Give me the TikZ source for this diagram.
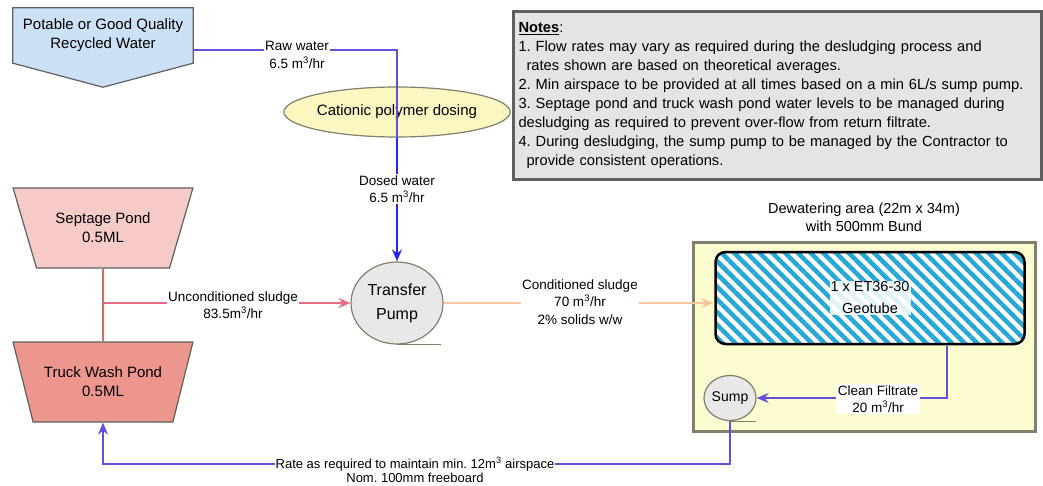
\documentclass[tikz,border=0pt]{standalone}
\usepackage{fontspec}
\setmainfont{Liberation Sans}
\usetikzlibrary{arrows.meta,positioning,shapes.geometric,patterns.meta,backgrounds,calc}
\frenchspacing

% colours
\definecolor{srcblue}{RGB}{205,225,246}
\definecolor{edgegray}{RGB}{95,95,95}
\definecolor{rawblue}{RGB}{100,80,215}
\definecolor{dosblue}{RGB}{40,40,235}
\definecolor{dosyellow}{RGB}{252,246,192}
\definecolor{septpink}{RGB}{246,202,198}
\definecolor{truckred}{RGB}{236,150,142}
\definecolor{pondline}{RGB}{196,110,110}
\definecolor{sludgered}{RGB}{228,110,128}
\definecolor{condorange}{RGB}{248,198,158}
\definecolor{areayellow}{RGB}{253,251,208}
\definecolor{areaedge}{RGB}{128,128,108}
\definecolor{notegray}{RGB}{228,228,228}
\definecolor{tubecyan}{RGB}{38,168,215}
\definecolor{pumpgray}{RGB}{232,232,232}

\tikzset{
  bigtxt/.style={font=\fontsize{15}{19}\selectfont, align=center},
  flowlbl/.style={font=\fontsize{13.5}{17.5}\selectfont, align=center, fill=white, inner sep=1.5pt},
  pond/.style={trapezium, trapezium angle=64, shape border rotate=180, trapezium stretches=true,
    minimum width=180pt, minimum height=80pt, draw=edgegray, line width=1.2pt, bigtxt},
  pumpbody/.style={ellipse, draw=areaedge, fill=pumpgray, line width=1.2pt, inner sep=0pt},
  flowarr/.style={-{Stealth[length=12pt,width=10pt]}},
}

\begin{document}
\begin{tikzpicture}[x=1pt,y=-1pt]
\useasboundingbox (0,0) rectangle (1043,486);

% water source
\node[bigtxt, minimum width=180pt, minimum height=55pt, inner sep=0pt] (src) at (103,35.5)
  {Potable or Good Quality\\Recycled Water};
\begin{scope}[on background layer]
\draw[edgegray, line width=1.2pt, fill=srcblue] (src.north west) -- (src.north east)
  -- (src.south east) -- ($(src.south)+(0,24)$) -- (src.south west) -- cycle;
\end{scope}

% notes
\node[draw=edgegray, line width=3pt, fill=notegray, anchor=north west, text width=518pt,
  minimum height=168pt, inner xsep=5pt, font=\fontsize{14.7}{18.9}\selectfont, align=left] (notes) at (512,10)
  {\textbf{\underline{Notes}}:\\
   1. Flow rates may vary as required during the desludging process and\\
   \hspace*{8pt}rates shown are based on theoretical averages.\\
   2. Min airspace to be provided at all times based on a min 6L/s sump pump.\\
   3. Septage pond and truck wash pond water levels to be managed during\\
   desludging as required to prevent over-flow from return filtrate.\\
   4. During desludging, the sump pump to be managed by the Contractor to\\
   \hspace*{8pt}provide consistent operations.};

% dosing, pump, ponds
\node[ellipse, draw=areaedge, fill=dosyellow, line width=1.2pt, minimum width=188pt,
  minimum height=50pt, inner sep=0pt, bigtxt] (dose) at (397,112) {Cationic polymer dosing};
\node[pumpbody, minimum width=92pt, minimum height=82pt, font=\fontsize{16}{24}\selectfont,
  align=center] (pump) at (397,303) {Transfer\\Pump};
\draw[areaedge, line width=1.2pt] (pump.south) -- ++(44,0);
\node[pond, fill=septpink] (septic) at (103,228) {Septage Pond\\0.5ML};
\node[pond, fill=truckred] (truck) at (103,382) {Truck Wash Pond\\0.5ML};

% dewatering area
\node[draw=areaedge, line width=3pt, fill=areayellow, minimum width=342pt,
  minimum height=188pt] (area) at (864,337) {};
\node[font=\fontsize{14.5}{18}\selectfont, align=center, above=6pt of area] (arealbl)
  {Dewatering area (22m x 34m)\\with 500mm Bund};
\node[draw=black, line width=2.5pt, rounded corners=10pt, minimum width=309pt, minimum height=92pt,
  preaction={fill=white}, pattern={Lines[angle=-45,distance=9pt,line width=4.5pt]},
  pattern color=tubecyan] (tube) at (870,298) {};
\node[font=\fontsize{14.5}{22}\selectfont, align=center, fill=white, fill opacity=0.85,
  text opacity=1, inner sep=1pt] (tubelbl) at (tube.center) {1 x ET36-30\\Geotube};
\node[pumpbody, minimum width=52pt, minimum height=45pt, font=\fontsize{14}{17}\selectfont] (sump)
  at (730,398) {Sump};
\draw[areaedge, line width=1.2pt] (sump.south) -- ++(26,0);

% flows
\draw[rawblue, line width=2pt] ($(src.south east)+(0,-13)$) -| (dose.south);
\draw[dosblue, line width=2pt, flowarr] (dose.south) -- (pump.north);
\draw[pondline, line width=2pt] (septic.south) -- (truck.north);
\coordinate (branch) at (septic.south |- pump.west);
\draw[sludgered, line width=2pt, flowarr] (branch) -- (pump.west);
\draw[condorange, line width=2.5pt, flowarr] (pump.east) -- (tube.west |- pump.east);
\draw[rawblue, line width=2pt, flowarr] (tube.south -| 947,0) |- (sump.east);
\coordinate (retlow) at (0,464);
\draw[rawblue, line width=2pt, flowarr] (sump.south) -- (sump.south |- retlow) -| (truck.south);

% flow labels
\node[flowlbl] (rawlbl) at (297,55) {Raw water\\6.5 m\textsuperscript{3}/hr};
\node[flowlbl] (doslbl) at (397,189) {Dosed water\\6.5 m\textsuperscript{3}/hr};
\node[flowlbl] (unclbl) at (233,305) {Unconditioned sludge\\83.5m\textsuperscript{3}/hr};
\node[flowlbl] (condlbl) at (580,302) {Conditioned sludge\\70 m\textsuperscript{3}/hr\\2\% solids w/w};
\node[flowlbl] (filtlbl) at (878,399) {Clean Filtrate\\20 m\textsuperscript{3}/hr};
\node[flowlbl, font=\fontsize{13}{14.5}\selectfont, inner sep=1pt] (retlbl) at (415,470)
  {Rate as required to maintain min. 12m\textsuperscript{3} airspace\\Nom. 100mm freeboard};
\end{tikzpicture}
\end{document}
